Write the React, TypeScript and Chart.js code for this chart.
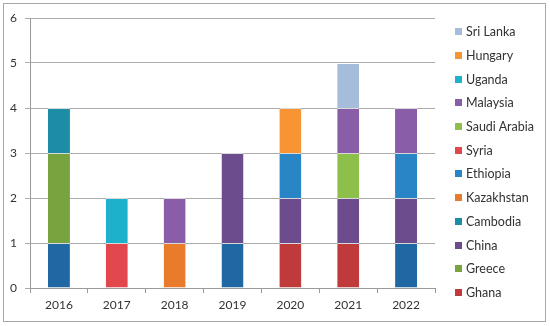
import React, { useEffect, useRef } from "react";
import { Chart, registerables } from "chart.js";

Chart.register(...registerables);

const years = ["2016", "2017", "2018", "2019", "2020", "2021", "2022"];
const yTicks = [0, 1, 2, 3, 4, 5, 6];

// stacked segments, bottom to top
const ethiopiaBase = [1, null, null, 1, null, null, 1];
const syria = [null, 1, null, null, null, null, null];
const kazakhstan = [null, null, 1, null, null, null, null];
const ghana = [null, null, null, null, 1, 1, null];
const greece = [2, null, null, null, null, null, null];
const uganda = [null, 1, null, null, null, null, null];
const china = [null, null, null, 2, 1, 1, 1];
const cambodia = [1, null, null, null, null, null, null];
const ethiopia = [null, null, null, null, 1, null, 1];
const saudiArabia = [null, null, null, null, null, 1, null];
const malaysia = [null, null, 1, null, null, 1, 1];
const hungary = [null, null, null, null, 1, null, null];
const sriLanka = [null, null, null, null, null, 1, null];

const legendNames = [
  "Sri Lanka",
  "Hungary",
  "Uganda",
  "Malaysia",
  "Saudi Arabia",
  "Syria",
  "Ethiopia",
  "Kazakhstan",
  "Cambodia",
  "China",
  "Greece",
  "Ghana",
];

const colors: Record<string, string> = {
  "Sri Lanka": "#A6BCDB",
  Hungary: "#F89434",
  Uganda: "#1EB1CB",
  Malaysia: "#8A5DA8",
  "Saudi Arabia": "#8CC04B",
  Syria: "#E1474D",
  Ethiopia: "#2A85C7",
  EthiopiaBase: "#1F68A3",
  Kazakhstan: "#E87B2C",
  Cambodia: "#1B8EA6",
  China: "#6C4C8D",
  Greece: "#77A43E",
  Ghana: "#C03A3B",
};

const FONT = "Lato, 'Open Sans', sans-serif";

export default function App() {
  const ref = useRef<HTMLCanvasElement>(null);

  useEffect(() => {
    if (!ref.current) return;
    const mk = (label: string, data: (number | null)[], key?: string) => ({
      label,
      data,
      backgroundColor: colors[key || label],
      borderColor: "rgba(255,255,255,0.55)",
      borderWidth: { top: 1, left: 0, right: 0, bottom: 0 },
      borderSkipped: "start" as const,
      stack: "s",
    });
    const chart = new Chart(ref.current, {
      type: "bar",
      data: {
        labels: years,
        datasets: [
          mk("Ethiopia", ethiopiaBase, "EthiopiaBase"),
          mk("Syria", syria),
          mk("Kazakhstan", kazakhstan),
          mk("Ghana", ghana),
          mk("Greece", greece),
          mk("Uganda", uganda),
          mk("China", china),
          mk("Cambodia", cambodia),
          mk("Ethiopia", ethiopia),
          mk("Saudi Arabia", saudiArabia),
          mk("Malaysia", malaysia),
          mk("Hungary", hungary),
          mk("Sri Lanka", sriLanka),
        ],
      },
      options: {
        animation: false,
        responsive: false,
        maintainAspectRatio: false,
        layout: { padding: { left: 6, right: 115, top: 18, bottom: 8 } },
        datasets: { bar: { categoryPercentage: 1, barPercentage: 0.38 } },
        plugins: { legend: { display: false }, tooltip: { enabled: false } },
        scales: {
          x: {
            stacked: true,
            afterFit: (s: any) => {
              s.height = 30;
            },
            grid: {
              display: true,
              drawOnChartArea: false,
              drawTicks: true,
              tickLength: 5,
              offset: true,
              color: "#9A9A9A",
            },
            border: { color: "#9A9A9A" },
            ticks: { color: "#333", font: { family: FONT, size: 12 }, padding: 5 },
          },
          y: {
            stacked: true,
            min: 0,
            max: 6,
            afterFit: (s: any) => {
              s.width = 24;
            },
            afterBuildTicks: (s: any) => {
              s.ticks = yTicks.map((v) => ({ value: v }));
            },
            grid: { color: "#ABABAB", tickLength: 5 },
            border: { color: "#9A9A9A" },
            ticks: { color: "#333", font: { family: FONT, size: 12 }, padding: 8 },
          },
        },
      },
    });
    return () => chart.destroy();
  }, []);

  return (
    <div
      style={{
        position: "fixed",
        left: 0,
        top: 0,
        width: 550,
        height: 326,
        background: "#fff",
      }}
    >
      <div
        style={{
          position: "absolute",
          left: 3,
          top: 3,
          width: 541,
          height: 317,
          border: "1px solid #A8A8A8",
        }}
      />
      <canvas ref={ref} width={550} height={326} style={{ position: "absolute", left: 0, top: 0 }} />
      {legendNames.map((n, i) => (
        <div
          key={n}
          style={{
            position: "absolute",
            left: 455,
            top: 31.7 + i * 23.7 - 8,
            height: 16,
            display: "flex",
            alignItems: "center",
            fontFamily: FONT,
            fontSize: 12.5,
            color: "#333",
            whiteSpace: "nowrap",
          }}
        >
          <span
            style={{
              display: "inline-block",
              width: 7,
              height: 7,
              background: colors[n],
              marginRight: 4,
            }}
          />
          {n}
        </div>
      ))}
    </div>
  );
}
